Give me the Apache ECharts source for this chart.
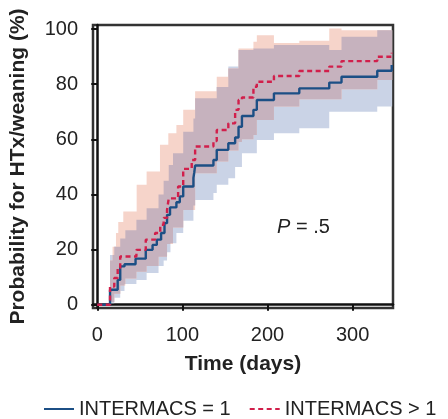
<!DOCTYPE html>
<html>
<head>
<meta charset="utf-8">
<script src="https://cdn.jsdelivr.net/npm/echarts@6/dist/echarts.min.js"></script>
<style>
  html, body { margin: 0; padding: 0; background: #fff; }
  #chart { width: 448px; height: 419px; }
</style>
</head>
<body>
<div id="chart"></div>
<script>
// KM estimates, days -> % with HTx/weaning
const blueDays = [0, 15, 24, 27, 32, 45, 57, 65, 70, 75, 79, 82, 85.5, 93, 97, 101, 113, 114, 115, 136.5, 140.4, 154, 162, 166, 170, 183.5, 187.5, 207.6, 237.4, 272.6, 287, 329, 346];
const blueVals = [0, 5.4, 9, 13.9, 14.7, 16.7, 19.9, 21.7, 23.6, 26, 29.6, 32.6, 35.3, 37.2, 39.3, 42.9, 46, 48, 50.5, 52.5, 56.2, 58.6, 60.7, 64.6, 68.5, 70.7, 74.3, 76.7, 78.5, 80.6, 82.7, 84.9, 87];
const redDays = [0, 15, 20, 24, 27, 46, 57, 68, 74, 78, 82, 84, 95, 101, 111, 115, 136.5, 140.4, 154, 162, 166, 170, 183.5, 187.5, 207.6, 237.4, 272.6, 287, 329, 346];
const redVals = [0, 6.6, 9.7, 13.4, 17.5, 19.9, 23.6, 26, 29, 31.5, 34.4, 38.6, 42.9, 49.3, 52.5, 57.4, 59.4, 63.4, 65.8, 70.7, 74.3, 75.2, 79.1, 80.9, 83, 84.8, 86.4, 88.4, 90, 91.4];

// confidence bands
const blueLoDays = [15, 20, 27, 32, 46, 58, 72, 78, 82, 86, 93, 101, 113, 115, 136.5, 140.4, 154, 162, 170, 187.5, 207.6, 237.4, 272.6, 329];
const blueLo = [0.5, 2.5, 5, 7.5, 9, 11.5, 14, 16, 19, 22.3, 26, 30.5, 36, 38, 40.5, 43.5, 45.9, 50, 55, 59.8, 62.2, 64, 70, 71.9];
const blueHiDays = [15, 20, 27, 33, 46, 58, 72, 78, 84, 89, 101, 113, 115, 140.4, 154, 166, 183.5, 207.6, 272.6, 287, 329];
const blueHi = [18, 21, 24, 27, 30.8, 35, 40, 45, 50.7, 55, 62.8, 67.6, 74.9, 79, 86.4, 92.4, 93, 94.2, 92.4, 97.2, 99.6];
const redLoDays = [15, 20, 27, 33, 46, 58, 72, 82, 89, 101, 115, 140.4, 154, 166, 170, 183.5, 187.5, 207.6, 237.4, 287, 329];
const redLo = [1, 4, 7, 9.5, 12, 14, 17.4, 22, 28, 34.4, 47.7, 52, 56, 59, 60, 61.6, 67, 71.9, 74.6, 78.2, 81.5];
const redHiDays = [15, 18, 22, 24.7, 30.6, 46.3, 58, 73.7, 83.5, 93, 101, 115, 140.4, 154, 166, 183.5, 187.5, 207.6, 237.4, 272.6, 287];
const redHi = [16, 21, 26, 30, 33.8, 43.5, 48.3, 58, 62.2, 65.2, 70.7, 77.5, 82.7, 85.7, 93, 95.4, 97.8, 95, 95.8, 100.2, 99.6];
const bandEnd = 346.5;

const xTicks = [0, 100, 200, 300];
const yTicks = [0, 20, 40, 60, 80, 100];

const FONT = 'Liberation Sans, Arial, Helvetica, sans-serif';
const BLUE = '#1c4f85';
const RED = '#d11f4b';

function stepAt(days, vals, x) {
  let v = vals[0];
  for (let i = 0; i < days.length; i++) {
    if (days[i] <= x + 1e-9) v = vals[i];
  }
  return v;
}

// common x grid for all bands so overlap can be worked out
const gridX = Array.from(new Set([].concat(blueLoDays, blueHiDays, redLoDays, redHiDays, [bandEnd])))
  .sort((a, b) => a - b);

const bLo = gridX.map(x => stepAt(blueLoDays, blueLo, x));
const bHi = gridX.map(x => stepAt(blueHiDays, blueHi, x));
const rLo = gridX.map(x => stepAt(redLoDays, redLo, x));
const rHi = gridX.map(x => stepAt(redHiDays, redHi, x));
const oLo = gridX.map((x, i) => Math.max(bLo[i], rLo[i]));
const oHi = gridX.map((x, i) => Math.max(oLo[i], Math.min(bHi[i], rHi[i])));

// one step-shaped polygon per band, built through the axis scales
function bandSeries(lo, hi, color) {
  return {
    type: 'custom', silent: true, clip: true,
    encode: { x: 0, y: [1, 2] },
    data: gridX.map((x, i) => [x, lo[i], hi[i]]),
    renderItem: (params, api) => {
      if (params.dataIndex !== 0) return null;
      const top = [];
      const bottom = [];
      for (let i = 0; i < gridX.length - 1; i++) {
        top.push(api.coord([gridX[i], hi[i]]), api.coord([gridX[i + 1], hi[i]]));
        bottom.push(api.coord([gridX[i], lo[i]]), api.coord([gridX[i + 1], lo[i]]));
      }
      return {
        type: 'polygon',
        shape: { points: top.concat(bottom.reverse()) },
        style: { fill: color }
      };
    }
  };
}

const chart = echarts.init(document.getElementById('chart'), null, { renderer: 'canvas' });

const option = {
  backgroundColor: '#ffffff',
  animation: false,
  grid: {
    left: 93, right: 55, top: 25, bottom: 111,
    show: true, borderColor: '#333', borderWidth: 2.5, backgroundColor: 'transparent'
  },
  xAxis: {
    type: 'value', min: -5, max: 347.5,
    name: 'Time (days)', nameLocation: 'middle', nameGap: 46,
    nameTextStyle: { fontFamily: FONT, fontSize: 21, fontWeight: 'bold', color: '#222' },
    axisLine: { show: true, lineStyle: { color: '#111', width: 2.5 } },
    axisTick: { show: true, length: 6, lineStyle: { color: '#111', width: 2 }, customValues: xTicks },
    axisLabel: { fontFamily: FONT, fontSize: 20, color: '#222', margin: 17, customValues: xTicks },
    splitLine: { show: false }
  },
  yAxis: {
    type: 'value', min: -1.2, max: 101.5,
    name: 'Probability for HTx/weaning (%)', nameLocation: 'middle', nameGap: 64,
    nameTextStyle: { fontFamily: FONT, fontSize: 21, fontWeight: 'bold', color: '#222' },
    axisLine: { show: true, lineStyle: { color: '#111', width: 2.5 } },
    axisTick: { show: true, length: 6, lineStyle: { color: '#111', width: 2 }, customValues: yTicks },
    axisLabel: { fontFamily: FONT, fontSize: 20, color: '#222', margin: 15, customValues: yTicks },
    splitLine: { show: false }
  },
  legend: {
    left: 38, top: 394,
    itemWidth: 30, itemHeight: 14, itemGap: 18,
    itemStyle: { opacity: 0 },
    textStyle: { fontFamily: FONT, fontSize: 20, color: '#222' },
    data: ['INTERMACS = 1', 'INTERMACS > 1']
  },
  graphic: [{
    type: 'text', left: 277, top: 217, z: 100, silent: true,
    style: {
      text: '{i|P} = .5',
      font: '20px ' + FONT,
      fill: '#222',
      rich: { i: { fontStyle: 'italic', fontSize: 20, fontFamily: FONT, fill: '#222' } }
    }
  }],
  series: [
    bandSeries(bLo, bHi, '#cad3e6'),
    bandSeries(rLo, rHi, '#f6d4ca'),
    bandSeries(oLo, oHi, '#c6b2be'),
    {
      name: 'INTERMACS = 1', type: 'line', step: 'end', symbol: 'none', silent: true,
      lineStyle: { color: BLUE, width: 2.4 }, itemStyle: { color: BLUE },
      data: blueDays.map((d, i) => [d, blueVals[i]])
    }, {
      name: 'INTERMACS > 1', type: 'line', step: 'end', symbol: 'none', silent: true,
      lineStyle: { color: RED, width: 2.4, type: [5, 3.5] }, itemStyle: { color: RED },
      data: redDays.map((d, i) => [d, redVals[i]])
    }
  ]
};

chart.setOption(option);
</script>
</body>
</html>
